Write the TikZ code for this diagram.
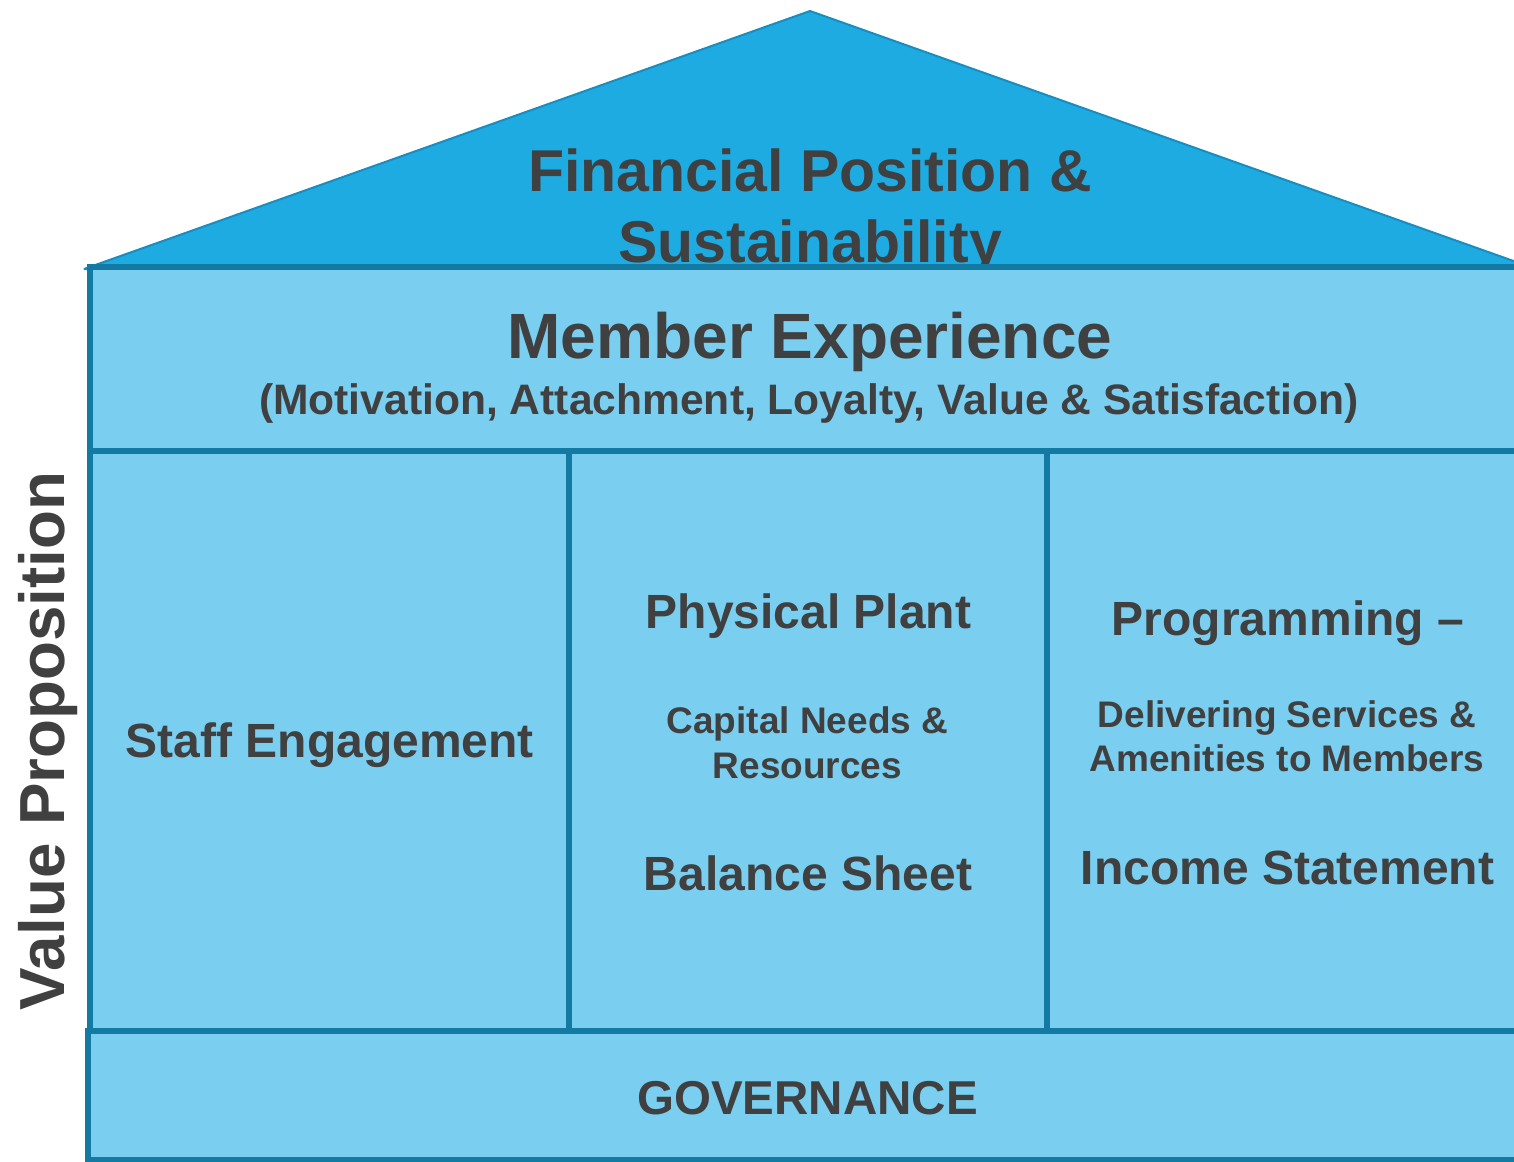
\documentclass[tikz,border=0pt]{standalone}
\usepackage{fontspec}
\setmainfont{Liberation Sans}
\definecolor{roofblue}{RGB}{30,171,226}
\definecolor{wallblue}{RGB}{122,206,240}
\definecolor{framblue}{RGB}{18,122,163}
\definecolor{roofline}{RGB}{24,142,192}
\definecolor{ink}{RGB}{64,64,64}
\begin{document}
\begin{tikzpicture}[x=1pt,y=-1pt,
  wall/.style={fill=wallblue,draw=framblue,line width=6pt},
  lbl/.style={inner sep=0pt,anchor=base,text=ink,font=\bfseries\fontsize{#1}{#1}\selectfont},
  lbl/.default=48]
\useasboundingbox (0,0) rectangle (1514,1161);
\clip (0,0) rectangle (1514,1161);

% roof
\draw[fill=roofblue,draw=roofline,line width=2pt,line join=bevel]
  (84,269) -- (810,11) -- (1536,269) -- cycle;
\node[lbl=59] (fin1) at (810,192) {Financial Position \&};
\node[lbl=59] (fin2) at (810,262) {Sustainability};

% member experience band
\draw[wall] (89.7,267) rectangle (1528,451);
\node[lbl=64] (mem) at (810,358) {Member Experience};
\node[lbl=42.6] (memsub) at (809,414) {(Motivation, Attachment, Loyalty, Value \& Satisfaction)};

% pillars
\draw[wall] (89.7,451) rectangle (568.5,1031);
\draw[wall] (568.5,451) rectangle (1047,1031);
\draw[wall] (1047,451) rectangle (1528,1031);

\node[lbl] (staff) at (330,757) {Staff Engagement};

\node[lbl] (plant) at (808.5,628) {Physical Plant};
\node[lbl=37] (cap1) at (807.5,733) {Capital Needs \&};
\node[lbl=37] (cap2) at (807.5,778) {Resources};
\node[lbl] (bal) at (808,890) {Balance Sheet};

\node[lbl] (prog) at (1288,635) {Programming –};
\node[lbl=37] (del1) at (1287,727) {Delivering Services \&};
\node[lbl=37] (del2) at (1287,771) {Amenities to Members};
\node[lbl] (inc) at (1287.5,884) {Income Statement};

% foundation
\draw[wall] (87.5,1031) rectangle (1528,1159.5);
\node[lbl=47.5] (gov) at (807.5,1114) {GOVERNANCE};

% side label
\node[lbl=63.7,rotate=90] (vp) at (64,741) {Value Proposition};
\end{tikzpicture}
\end{document}
